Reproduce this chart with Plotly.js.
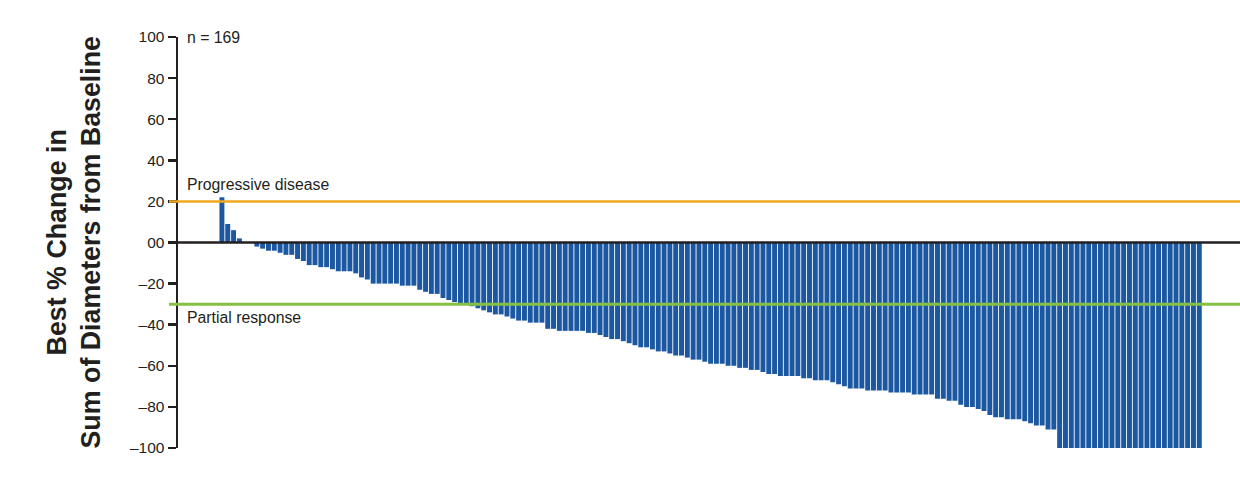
<!DOCTYPE html>
<html>
<head>
<meta charset="utf-8">
<script src="https://cdn.plot.ly/plotly-3.0.1.min.js"></script>
<style>html,body{margin:0;padding:0;background:#fff;}</style>
</head>
<body>
<div id="chart" style="width:1240px;height:481px;"></div>
<script>
// Best % change in sum of diameters from baseline, one value per patient (n = 169)
const bestChange = [
  22, 9, 6, 2, 0, 0, -2, -3, -4, -4,
  -5, -6, -6, -8, -9, -11, -11, -12, -12, -13,
  -14, -14, -14, -15, -17, -18, -20, -20, -20, -20,
  -20, -21, -21, -21, -23, -24, -25, -25, -27, -28,
  -29, -29.5, -30, -31, -32, -33, -34, -35, -35, -36,
  -37, -38, -38, -39, -39, -39, -42, -42, -43, -43,
  -43, -43, -43, -44, -44, -45, -46, -47, -47, -48,
  -49, -50, -51, -51, -52, -53, -53, -54, -55, -55,
  -56, -57, -57, -58, -59, -59, -59, -60, -60, -61,
  -61, -62, -62, -63, -64, -64, -65, -65, -65, -65,
  -66, -66, -67, -67, -67, -68, -69, -70, -71, -71,
  -71, -72, -72, -72, -72, -73, -73, -73, -73, -74,
  -74, -74, -74, -76, -76, -77, -77, -79, -80, -80,
  -81, -82, -84, -85, -85, -86, -86, -86, -87, -88,
  -89, -89, -91, -91, -100, -100, -100, -100, -100, -100,
  -100, -100, -100, -100, -100, -100, -100, -100, -100, -100,
  -100, -100, -100, -100, -100, -100, -100, -100, -100
];
const patients = bestChange.map((_, i) => i);

const yTickValues = [100, 80, 60, 40, 20, 0, -20, -40, -60, -80, -100];
const yTickLabels = ["100", "80", "60", "40", "20", "00", "\u201320", "\u201340", "\u201360", "\u201380", "\u2013100"];

const progressiveThreshold = 20;
const partialThreshold = -30;
const nLabel = "n = 169";
const progressiveLabel = "Progressive disease";
const partialLabel = "Partial response";
const yTitle = "Best % Change in<br>Sum of Diameters from Baseline";

const FONT = "Liberation Sans, Arial, Helvetica, sans-serif";
const INK = "#231F20";
const PLOT_W = 1062;
const px = p => (p - 178) / PLOT_W;

const trace = {
  type: "bar",
  x: patients,
  y: bestChange,
  marker: { color: "#1B58A1", line: { width: 0 } },
  hoverinfo: "skip"
};

const layout = {
  width: 1240,
  height: 481,
  margin: { l: 178, r: 0, t: 37, b: 33, pad: 0 },
  paper_bgcolor: "#ffffff",
  plot_bgcolor: "#ffffff",
  showlegend: false,
  bargap: 0.15,
  font: { family: FONT, color: INK, size: 15 },
  xaxis: {
    range: [-7.55, 175.0],
    visible: false,
    showgrid: false,
    zeroline: false,
    fixedrange: true
  },
  yaxis: {
    range: [-100, 100],
    tickmode: "array",
    tickvals: yTickValues,
    ticktext: yTickLabels,
    ticks: "outside",
    ticklen: 8,
    tickwidth: 2.5,
    tickcolor: INK,
    showline: true,
    linewidth: 2.5,
    linecolor: INK,
    showgrid: false,
    zeroline: false,
    tickfont: { family: FONT, size: 15.5, color: INK },
    fixedrange: true
  },
  shapes: [
    { type: "line", layer: "above", xref: "paper", yref: "y", x0: px(169), x1: 1, y0: progressiveThreshold, y1: progressiveThreshold, line: { color: "#F0A91F", width: 2.5 } },
    { type: "line", layer: "above", xref: "paper", yref: "y", x0: px(169), x1: 1, y0: partialThreshold, y1: partialThreshold, line: { color: "#86C043", width: 3 } },
    { type: "line", layer: "above", xref: "paper", yref: "y", x0: 0, x1: 1, y0: 0, y1: 0, line: { color: INK, width: 2.5 } }
  ],
  annotations: [
    { xref: "paper", yref: "y", x: px(185), y: 100, text: nLabel, showarrow: false, xanchor: "left", yanchor: "middle", font: { family: FONT, size: 15.8, color: INK } },
    { xref: "paper", yref: "y", x: px(185), y: 28, text: progressiveLabel, showarrow: false, xanchor: "left", yanchor: "middle", font: { family: FONT, size: 15.8, color: INK } },
    { xref: "paper", yref: "y", x: px(185), y: -36.5, text: partialLabel, showarrow: false, xanchor: "left", yanchor: "middle", font: { family: FONT, size: 15.8, color: INK } },
    { xref: "paper", yref: "paper", x: px(74), y: 0.5, text: yTitle, textangle: -90, showarrow: false, xanchor: "center", yanchor: "middle", font: { family: FONT, size: 26.8, color: INK, weight: 700 } }
  ]
};

Plotly.newPlot("chart", [trace], layout, { displayModeBar: false, staticPlot: true });
</script>
</body>
</html>
